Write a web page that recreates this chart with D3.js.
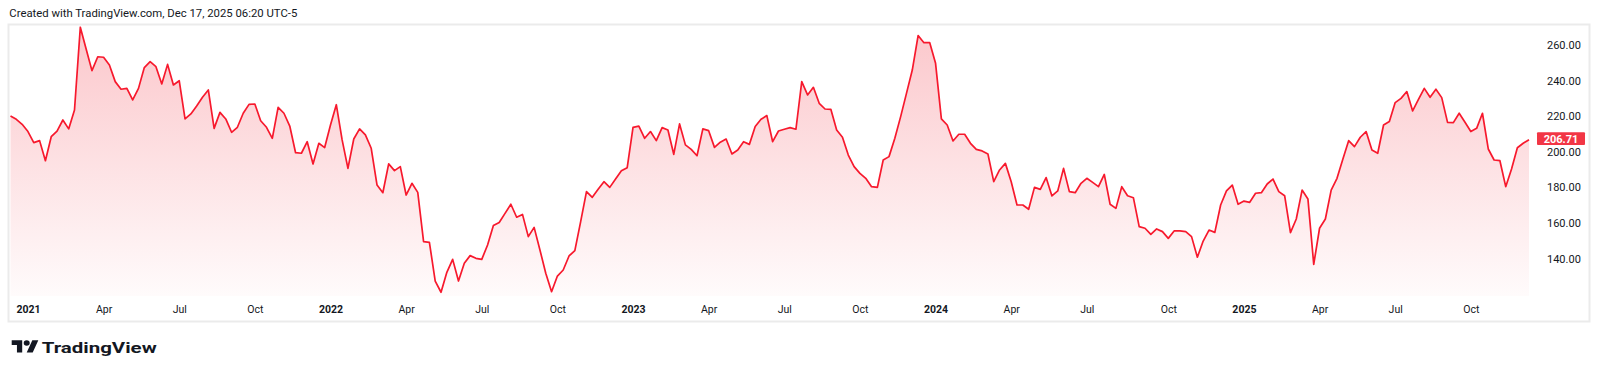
<!DOCTYPE html>
<html>
<head>
<meta charset="utf-8">
<script src="https://cdn.jsdelivr.net/npm/d3@7"></script>
<style>
  html, body { margin: 0; padding: 0; background: #ffffff; }
  svg { display: block; font-family: Roboto, "Noto Sans", sans-serif; }
</style>
</head>
<body>
<svg id="chart" width="1600" height="378"></svg>
<script>
// ---------- data ----------
const firstWeek = "2020-12-14";   // weekly bars (Monday)
const lastWeek  = "2025-12-15";
const values = [
  220.1, 218.2, 215.4, 211.3, 205.1, 206.2, 194.9, 208.4, 211.6, 217.8,
  212.8, 223.4, 270.0, 257.8, 245.6, 253.4, 253.1, 248.8, 239.4, 235.1,
  235.6, 229.1, 235.6, 247.3, 250.6, 247.8, 238.1, 249.1, 237.5, 239.9,
  218.4, 221.2, 225.7, 230.6, 234.7, 213.1, 222.1, 218.4, 210.9, 213.7,
  221.6, 226.6, 226.8, 217.4, 213.7, 207.5, 224.9, 221.6, 214.4, 199.4,
  199.1, 205.6, 193.1, 204.7, 202.3, 215.0, 226.4, 206.6, 190.6, 207.1,
  212.8, 209.4, 201.9, 181.2, 176.9, 193.1, 189.3,
  191.6, 175.6, 182.2, 177.1, 149.4, 149.0, 127.2, 120.9, 132.1, 139.4,
  127.2, 137.2, 141.5, 140.0, 139.4, 147.5, 158.4, 160.1, 165.3, 170.4,
  163.1, 164.7, 152.2, 157.4, 144.7, 131.6, 121.2, 130.0, 133.4, 141.3,
  144.3, 160.6, 177.5, 174.3, 178.8, 183.1, 179.9, 184.6, 189.3, 191.0,
  213.7, 214.4, 207.5, 211.3, 206.2, 213.5, 212.2, 198.5, 215.6, 203.8,
  201.3, 197.7, 212.8, 211.8, 202.4, 205.3, 207.1, 198.7, 200.9, 205.6,
  204.1, 214.1, 218.2, 220.3, 205.6, 211.6, 212.6, 213.5, 212.6,
  239.4, 231.9, 236.2, 227.2, 224.0, 223.8, 212.2, 208.1, 198.1, 191.6,
  187.8, 185.0, 180.3, 179.9, 195.3, 197.2, 207.5, 219.7, 232.8, 245.9,
  265.3, 261.3, 261.3, 249.7, 218.4, 215.0, 206.0, 209.8, 209.8, 204.7,
  201.3, 200.4, 198.7, 183.1, 189.7, 193.4, 183.1, 170.0, 170.0, 167.6,
  179.9, 178.8, 185.4, 175.1, 177.9, 190.6, 177.5, 176.9, 182.2, 185.0,
  182.7, 180.3, 187.2, 170.4, 168.1, 180.3, 175.2, 174.1, 157.8, 156.9,
  153.5, 156.5, 155.0, 151.2, 155.4, 155.4, 155.0, 152.2, 140.6,
  149.7, 155.9, 154.6, 170.0, 177.9, 181.2, 170.4, 172.2, 171.5, 176.6,
  176.9, 181.8, 184.6, 177.5, 175.2, 154.4, 162.1, 178.4, 173.4, 136.6,
  156.9, 162.1, 178.4, 185.0, 195.7, 206.2, 202.8, 208.1, 211.3, 200.9,
  199.1, 215.0, 216.9, 227.6, 230.0, 233.8, 222.9, 229.4, 235.6, 230.6,
  235.1, 230.4, 216.5, 216.3, 221.6, 216.5, 211.3, 213.1, 221.6, 201.5,
  195.3, 194.9, 180.3, 190.2, 202.2, 204.7, 206.71
];
const yTicks = [140, 160, 180, 200, 220, 240, 260];
const tickMonths = [0, 3, 6, 9];
const monthNames = ["Jan","Feb","Mar","Apr","May","Jun","Jul","Aug","Sep","Oct","Nov","Dec"];
const lastPrice = 206.71;
const titleText = "Created with TradingView.com, Dec 17, 2025 06:20 UTC-5";

// ---------- build ----------
const parse = d3.utcParse("%Y-%m-%d");
const weeks = d3.utcMonday.range(parse(firstWeek), d3.utcDay.offset(parse(lastWeek), 1));
const data = weeks.map((d, i) => ({ date: d, value: values[i] }));

const svg = d3.select("#chart");
const paneBottom = 296;
const red = "#f23645";

const x = d3.scaleUtc().domain([weeks[0], weeks[weeks.length - 1]]).range([10.5, 1529]);
const y = d3.scaleLinear().domain([140, 260]).range([258.3, 45]);

// frame
svg.append("rect")
  .attr("x", 8.5).attr("y", 24.5).attr("width", 1581).attr("height", 297)
  .attr("fill", "#ffffff").attr("stroke", "#ebebeb").attr("stroke-width", 2);

// gradient
const defs = svg.append("defs");
const grad = defs.append("linearGradient").attr("id", "areaGrad")
  .attr("gradientUnits", "userSpaceOnUse")
  .attr("x1", 0).attr("x2", 0)
  .attr("y1", y(d3.max(values))).attr("y2", paneBottom);
grad.append("stop").attr("offset", 0).attr("stop-color", red).attr("stop-opacity", 0.28);
grad.append("stop").attr("offset", 1).attr("stop-color", red).attr("stop-opacity", 0.02);

svg.append("path").datum(data)
  .attr("fill", "url(#areaGrad)")
  .attr("d", d3.area().x(d => x(d.date)).y0(paneBottom).y1(d => y(d.value)));

svg.append("path").datum(data)
  .attr("fill", "none").attr("stroke", "#f7192d").attr("stroke-width", 1.7)
  .attr("stroke-linejoin", "round")
  .attr("d", d3.line().x(d => x(d.date)).y(d => y(d.value)));

// title
svg.append("text").attr("x", 9.3).attr("y", 16.5)
  .attr("font-size", 11).attr("fill", "#131722")
  .attr("textLength", 288).attr("lengthAdjust", "spacingAndGlyphs")
  .text(titleText);

// y axis labels
const yAxis = d3.axisRight(y).tickValues(yTicks).tickFormat(d3.format(".2f")).tickSize(0).tickPadding(0);
const yg = svg.append("g").attr("transform", "translate(1547,0)").call(yAxis);
yg.select(".domain").remove();
yg.selectAll("text").attr("font-size", 11).attr("fill", "#131722")
  .attr("font-family", "Roboto, sans-serif").attr("dy", "0.34em");

// price label
const py = y(lastPrice);
svg.append("rect").attr("x", 1537).attr("y", py - 7.5).attr("width", 48).attr("height", 12.8)
  .attr("fill", red).attr("rx", 1);
svg.append("text").attr("x", 1561).attr("y", py + 3.3).attr("text-anchor", "middle")
  .attr("font-size", 11).attr("font-weight", 700).attr("fill", "#ffffff")
  .text(d3.format(".2f")(lastPrice));

// time axis
const tickDates = weeks.filter((d, i) => i > 0 && d.getUTCMonth() !== weeks[i - 1].getUTCMonth() && tickMonths.includes(d.getUTCMonth()));
const xAxis = d3.axisBottom(x).tickValues(tickDates)
  .tickFormat(d => d.getUTCMonth() === 0 ? String(d.getUTCFullYear()) : monthNames[d.getUTCMonth()])
  .tickSize(0).tickPadding(0);
const xg = svg.append("g").attr("transform", "translate(0,313)").call(xAxis);
xg.select(".domain").remove();
xg.selectAll("text").attr("dy", 0).attr("font-size", 10.5).attr("fill", "#131722")
  .attr("font-family", "Roboto, sans-serif")
  .attr("font-weight", d => d.getUTCMonth() === 0 ? 700 : 400);

// TradingView logo
const logo = svg.append("g").attr("transform", "translate(11.7,337.6) scale(0.75,0.68)").attr("fill", "#131722");
logo.append("path").attr("d", "M14 22H7V11H0V4h14v18zM28 22h-8l7.5-18h8L28 22z");
logo.append("circle").attr("cx", 20).attr("cy", 8).attr("r", 4);
svg.append("text").attr("x", 41.7).attr("y", 352.5)
  .attr("font-size", 14.5).attr("font-weight", 700).attr("fill", "#131722")
  .attr("textLength", 115).attr("lengthAdjust", "spacingAndGlyphs")
  .text("TradingView");
</script>
</body>
</html>
